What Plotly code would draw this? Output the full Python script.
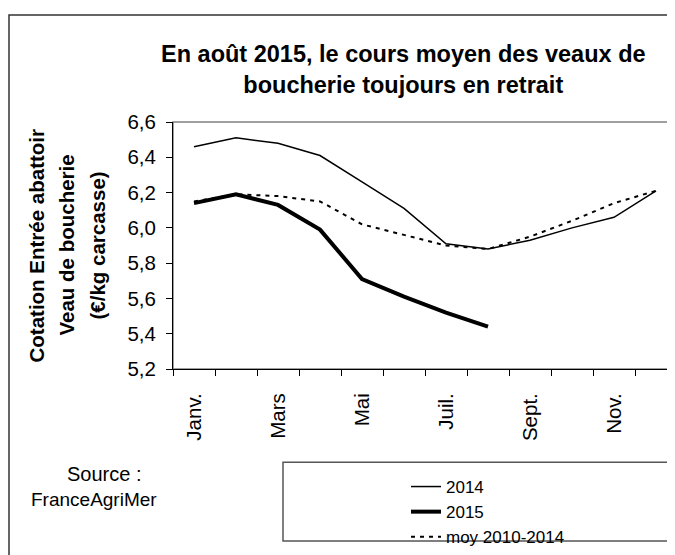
import plotly.graph_objects as go

months = ["Janv.", "Févr.", "Mars", "Avr.", "Mai", "Juin", "Juil.", "Août",
          "Sept.", "Oct.", "Nov.", "Déc."]
v2014 = [6.46, 6.51, 6.48, 6.41, 6.26, 6.11, 5.91, 5.88, 5.93, 6.00, 6.06, 6.21]
v2015 = [6.14, 6.19, 6.13, 5.99, 5.71, 5.61, 5.52, 5.44]
vmoy = [6.15, 6.19, 6.18, 6.15, 6.02, 5.96, 5.90, 5.88, 5.95, 6.04, 6.14, 6.21]
y_ticks = [5.2, 5.4, 5.6, 5.8, 6.0, 6.2, 6.4, 6.6]

FONT = "Liberation Sans, Arial, sans-serif"
OFF = 8  # page body margin
W, H = 675 - OFF, 555 - OFF
L, R, T, B = 173 - OFF, 0, 122 - OFF, 555 - 376
PW, PH = W - L - R, H - T - B


def px(xp):
    # page x -> paper fraction
    return (xp - OFF - L) / PW


def py(yp):
    # page y -> paper fraction
    return (T + PH - (yp - OFF)) / PH


xi = list(range(len(months)))

fig = go.Figure()
fig.add_trace(go.Scatter(x=xi, y=v2014, mode="lines", name="2014",
                         line=dict(color="black", width=1.5)))
fig.add_trace(go.Scatter(x=xi[:len(v2015)], y=v2015, mode="lines", name="2015",
                         line=dict(color="black", width=4)))
fig.add_trace(go.Scatter(x=xi, y=vmoy, mode="lines", name="moy 2010-2014",
                         line=dict(color="black", width=2, dash="4px,5px")))

shapes = [
    dict(type="rect", xref="paper", yref="paper", x0=px(9), x1=px(720),
         y0=py(640), y1=py(12), line=dict(color="#333333", width=1.5), layer="below"),
    dict(type="rect", xref="paper", yref="paper", x0=0, x1=px(720),
         y0=0, y1=1, line=dict(color="#808080", width=1.5), layer="below"),
    dict(type="rect", xref="paper", yref="paper", x0=px(283), x1=px(720),
         y0=py(553), y1=py(472), line=dict(color="#555555", width=1.5), layer="below"),
]

ytitle_font = dict(size=20.5, family=FONT, color="black")
annotations = [
    dict(text="<b>En août 2015, le cours moyen des veaux de<br>boucherie toujours en retrait</b>",
         xref="paper", yref="paper", x=px(403), y=py(67.5), xanchor="center",
         yanchor="middle", showarrow=False, font=dict(size=23.5, family=FONT, color="black")),
    dict(text="<b>Cotation Entrée abattoir</b>", xref="paper", yref="paper",
         x=px(36), y=py(249), xanchor="center", yanchor="middle", textangle=-90,
         showarrow=False, font=ytitle_font),
    dict(text="<b>Veau de boucherie</b>", xref="paper", yref="paper",
         x=px(66), y=py(249), xanchor="center", yanchor="middle", textangle=-90,
         showarrow=False, font=ytitle_font),
    dict(text="<b>(€/kg carcasse)</b>", xref="paper", yref="paper",
         x=px(97), y=py(249), xanchor="center", yanchor="middle", textangle=-90,
         showarrow=False, font=ytitle_font),
    dict(text="Source :", xref="paper", yref="paper", x=px(104), y=py(484),
         xanchor="center", yanchor="middle", showarrow=False,
         font=dict(size=20, family=FONT, color="black")),
    dict(text="FranceAgriMer", xref="paper", yref="paper", x=px(94), y=py(510),
         xanchor="center", yanchor="middle", showarrow=False,
         font=dict(size=19, family=FONT, color="black")),
]

fig.update_layout(
    width=W, height=H,
    margin=dict(l=L, r=R, t=T, b=B, pad=0),
    paper_bgcolor="white", plot_bgcolor="white",
    font=dict(family=FONT, color="black", size=19),
    separators=", ",
    showlegend=True,
    legend=dict(x=px(406), y=py(479), xanchor="left", yanchor="top",
                bgcolor="rgba(0,0,0,0)", borderwidth=0,
                font=dict(size=17, family=FONT, color="black"),
                tracegroupgap=0),
    shapes=shapes,
    annotations=annotations,
    hovermode=False,
)

fig.update_xaxes(
    range=[-0.5, -0.5 + PW / 42.0],
    tickmode="array", tickvals=xi[::2], ticktext=months[::2],
    tickangle=-90, ticks="", showgrid=False, zeroline=False,
    showline=True, linecolor="black", linewidth=1,
    tickfont=dict(size=20.5, family=FONT, color="black"),
    ticklabelstandoff=15,
    minor=dict(tickmode="array", tickvals=[i - 0.5 for i in range(len(months) + 1)],
               ticks="outside", ticklen=6, tickcolor="black", tickwidth=1, showgrid=False),
)
fig.update_yaxes(
    range=[5.2, 6.6], tickmode="array", tickvals=y_ticks, tickformat=".1f",
    ticks="outside", ticklen=6, tickcolor="black", showgrid=False, zeroline=False,
    showline=True, linecolor="black", linewidth=1,
    tickfont=dict(size=20.5, family=FONT, color="black"),
    ticklabelstandoff=6,
)

fig.write_html("out.html")
